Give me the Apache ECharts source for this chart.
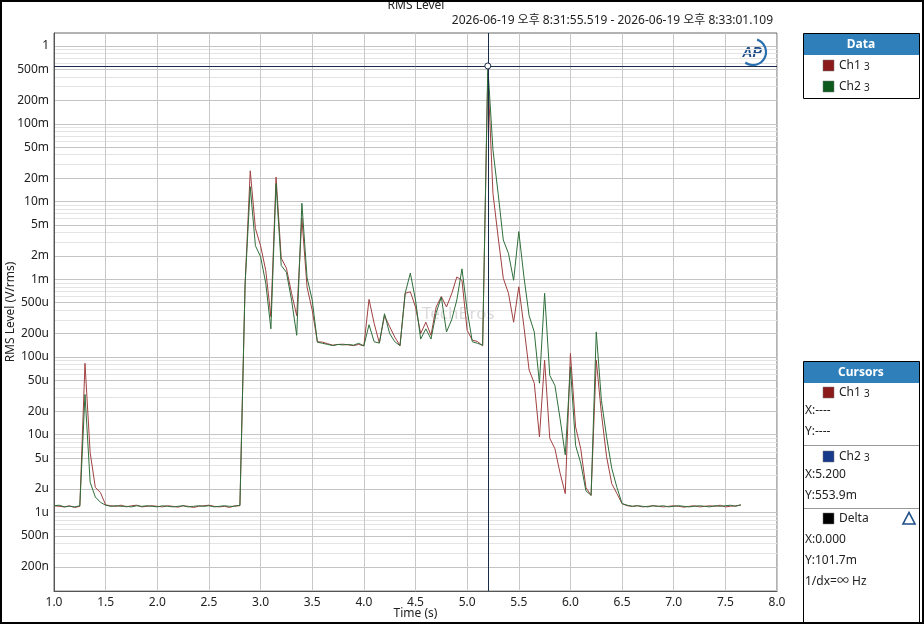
<!DOCTYPE html>
<html>
<head>
<meta charset="utf-8">
<script src="https://cdn.jsdelivr.net/npm/echarts@6/dist/echarts.min.js"></script>
<style>
html,body{margin:0;padding:0;background:#fff;}
#c{width:924px;height:624px;}
</style>
</head>
<body>
<div id="c"></div>
<script>
// ---- data (RMS level in Vrms, sampled every 0.05 s from 1.00 s) ----
const t0 = 1.0, dt = 0.05;
const ch1 = [
1.22e-6,1.20e-6,1.18e-6,1.22e-6,1.16e-6,1.20e-6,
83e-6,5.9e-6,2.1e-6,1.8e-6,1.25e-6,
1.22e-6,1.20e-6,1.24e-6,1.18e-6,1.22e-6,1.24e-6,1.18e-6,1.20e-6,1.22e-6,1.20e-6,
1.18e-6,1.22e-6,1.20e-6,1.17e-6,1.22e-6,1.20e-6,1.16e-6,1.20e-6,1.22e-6,1.24e-6,
1.20e-6,1.18e-6,1.20e-6,1.16e-6,1.22e-6,1.22e-6,
0.85e-3,24.8e-3,4.5e-3,2.7e-3,1.3e-3,0.33e-3,20.6e-3,1.87e-3,1.39e-3,0.66e-3,
0.34e-3,6.1e-3,0.79e-3,0.40e-3,0.157e-3,0.155e-3,0.148e-3,0.142e-3,0.145e-3,0.146e-3,
0.143e-3,0.140e-3,0.145e-3,0.139e-3,0.55e-3,0.27e-3,0.151e-3,0.34e-3,0.245e-3,0.18e-3,
0.14e-3,0.66e-3,0.69e-3,0.44e-3,0.20e-3,0.28e-3,0.19e-3,0.44e-3,0.60e-3,0.44e-3,
0.65e-3,1.07e-3,0.97e-3,0.22e-3,0.165e-3,0.158e-3,0.139e-3,452.2e-3,12.7e-3,3.5e-3,
1.03e-3,0.66e-3,0.28e-3,0.80e-3,0.245e-3,68e-6,46e-6,9.4e-6,91e-6,9.0e-6,
6.6e-6,3.2e-6,1.75e-6,111e-6,12.6e-6,6.6e-6,2.1e-6,1.66e-6,91e-6,18.7e-6,
5.2e-6,2.35e-6,1.75e-6,1.3e-6,
1.22e-6,1.20e-6,1.22e-6,1.18e-6,1.20e-6,1.22e-6,1.20e-6,1.18e-6,1.20e-6,1.22e-6,
1.20e-6,1.17e-6,1.20e-6,1.22e-6,1.18e-6,1.20e-6,1.22e-6,1.20e-6,1.24e-6,1.18e-6,
1.20e-6,1.22e-6,1.24e-6
];
const ch2 = [
1.22e-6,1.24e-6,1.18e-6,1.20e-6,1.18e-6,1.22e-6,
33e-6,2.45e-6,1.58e-6,1.35e-6,1.24e-6,
1.20e-6,1.22e-6,1.20e-6,1.20e-6,1.18e-6,1.22e-6,1.20e-6,1.22e-6,1.20e-6,1.18e-6,
1.22e-6,1.20e-6,1.18e-6,1.20e-6,1.22e-6,1.18e-6,1.20e-6,1.22e-6,1.20e-6,1.22e-6,
1.18e-6,1.20e-6,1.22e-6,1.20e-6,1.20e-6,1.24e-6,
0.85e-3,15.5e-3,2.7e-3,1.95e-3,0.89e-3,0.23e-3,17e-3,1.5e-3,1.23e-3,0.54e-3,
0.19e-3,9.5e-3,1.05e-3,0.54e-3,0.155e-3,0.150e-3,0.145e-3,0.140e-3,0.145e-3,0.143e-3,
0.145e-3,0.142e-3,0.150e-3,0.139e-3,0.26e-3,0.157e-3,0.151e-3,0.36e-3,0.20e-3,0.157e-3,
0.14e-3,0.66e-3,1.2e-3,0.54e-3,0.17e-3,0.23e-3,0.17e-3,0.37e-3,0.59e-3,0.21e-3,
0.30e-3,0.54e-3,1.36e-3,0.40e-3,0.157e-3,0.150e-3,0.142e-3,553.9e-3,46e-3,12.7e-3,
3.2e-3,2.15e-3,0.97e-3,4.1e-3,1.07e-3,0.34e-3,0.21e-3,46e-6,0.66e-3,58e-6,
43e-6,16e-6,5.5e-6,74e-6,7.3e-6,4.3e-6,1.9e-6,1.66e-6,0.21e-3,27.6e-6,
9.4e-6,3.7e-6,2.1e-6,1.3e-6,
1.24e-6,1.20e-6,1.22e-6,1.20e-6,1.18e-6,1.22e-6,1.20e-6,1.22e-6,1.18e-6,1.20e-6,
1.22e-6,1.20e-6,1.18e-6,1.20e-6,1.22e-6,1.20e-6,1.18e-6,1.22e-6,1.20e-6,1.22e-6,
1.24e-6,1.20e-6,1.26e-6
];
const yTickValues = [2e-7,5e-7,1e-6,2e-6,5e-6,1e-5,2e-5,5e-5,1e-4,2e-4,5e-4,1e-3,2e-3,5e-3,1e-2,2e-2,5e-2,0.1,0.2,0.5,1];
const yTickLabels = ['200n','500n','1u','2u','5u','10u','20u','50u','100u','200u','500u','1m','2m','5m','10m','20m','50m','100m','200m','500m','1'];
const yMinorMantissa = [3,4,6,7,8,9];
const yMinorDecades = [-7,-6,-5,-4,-3,-2,-1];
const yMin = 9.77e-8, yMax = 1.47;
const xTicks = {min:1.0, max:8.0, interval:0.5};
const cursor = {x:5.2, y:0.5539};
const title = 'RMS Level';
const subtitle = '2026-06-19 오후 8:31:55.519 - 2026-06-19 오후 8:33:01.109';
const cursorTexts = {ch1X:'X:----', ch1Y:'Y:----', ch2X:'X:5.200', ch2Y:'Y:553.9m', dX:'X:0.000', dY:'Y:101.7m', dHz:'1/dx=∞ Hz'};

// ---- build ----
const L = v => Math.log10(v);
const times = ch1.map((_, i) => +(t0 + i * dt).toFixed(2));
const d1 = times.map((t, i) => [t, L(ch1[i])]);
const d2 = times.map((t, i) => [t, L(ch2[i])]);
const majorVals = yTickValues.map(L);
majorVals.push(L(1e-7));
const labelMap = {};
yTickValues.forEach((v, i) => { labelMap[L(v).toFixed(4)] = yTickLabels[i]; });
const minorVals = [];
yMinorDecades.forEach(e => yMinorMantissa.forEach(m => { const v = m * Math.pow(10, e); if (v > yMin && v < yMax) minorVals.push(L(v)); }));

const FONT = '"Noto Sans", "Noto Sans CJK KR", sans-serif';
const blue = '#2f80ba';
const txt = (x, y, s, o) => ({type:'text', x, y, style:Object.assign({text:s, fill:'#222', font:'12px ' + FONT, textVerticalAlign:'middle'}, o || {})});
const swatch = (x, y, c) => ({type:'rect', shape:{x, y, width:11, height:11}, style:{fill:c, stroke:'#777', lineWidth:0.5}});
const chLabel = (x, y, name) => [txt(x, y, name, {}), txt(x + 25, y + 2, '3', {font:'10px ' + FONT})];

const graphics = [
  {type:'rect', shape:{x:1, y:1, width:922, height:622}, style:{fill:'none', stroke:'#000', lineWidth:2}, z:100},
  txt(416, 6, title, {textAlign:'center', font:'12px ' + FONT, fill:'#222'}),
  txt(773, 21, subtitle, {textAlign:'right', font:'12px ' + FONT, fill:'#222'}),
  // AP logo
  {type:'arc', shape:{cx:753, cy:52, r:13, startAngle:-1.25, endAngle:2.2}, style:{stroke:'#2a6fb0', lineWidth:2.2, fill:'none'}, z:10},
  txt(752, 53, 'AP', {textAlign:'center', font:'italic bold 14px "Liberation Sans", sans-serif', fill:'#1d4e89'}),
  // watermark
  txt(422, 314, 'TechBros', {font:'17px ' + FONT, fill:'rgba(150,150,150,0.35)'}),
  // Data panel
  {type:'rect', shape:{x:803.5, y:33.5, width:116, height:65}, style:{fill:'#fff', stroke:'#000', lineWidth:1}},
  {type:'rect', shape:{x:804, y:34, width:115, height:21}, style:{fill:blue}},
  txt(861, 44.5, 'Data', {textAlign:'center', fill:'#fff', font:'bold 12px ' + FONT}),
  swatch(823, 60, '#8b1a1a'), ...chLabel(839, 65.5, 'Ch1'),
  swatch(823, 81, '#0e5a1c'), ...chLabel(839, 86.5, 'Ch2'),
  // Cursors panel
  {type:'rect', shape:{x:803.5, y:361.5, width:116, height:262}, style:{fill:'#fff', stroke:'#000', lineWidth:1}},
  {type:'rect', shape:{x:804, y:362, width:115, height:21}, style:{fill:blue}},
  txt(861, 372.5, 'Cursors', {textAlign:'center', fill:'#fff', font:'bold 12px ' + FONT}),
  swatch(823, 387, '#8b1a1a'), ...chLabel(839, 392.5, 'Ch1'),
  txt(805, 411, cursorTexts.ch1X), txt(805, 432, cursorTexts.ch1Y),
  {type:'line', shape:{x1:804, y1:445.5, x2:919, y2:445.5}, style:{stroke:'#999', lineWidth:1}},
  swatch(823, 451, '#183a8a'), ...chLabel(839, 456.5, 'Ch2'),
  txt(805, 475, cursorTexts.ch2X), txt(805, 496, cursorTexts.ch2Y),
  {type:'line', shape:{x1:804, y1:508.5, x2:919, y2:508.5}, style:{stroke:'#999', lineWidth:1}},
  swatch(823, 513, '#000'), txt(839, 518.5, 'Delta'),
  {type:'polygon', shape:{points:[[903,524],[915,524],[909,512.5]]}, style:{fill:'none', stroke:'#1d4e89', lineWidth:1.6}},
  txt(805, 540, cursorTexts.dX), txt(805, 561, cursorTexts.dY), txt(805, 582, cursorTexts.dHz)
];

const chart = echarts.init(document.getElementById('c'), null, {renderer:'canvas'});
chart.setOption({
  animation:false,
  backgroundColor:'#fff',
  textStyle:{fontFamily:FONT},
  grid:{left:54, right:147, top:33, bottom:33, show:true, borderColor:'#666', borderWidth:1, containLabel:false, outerBoundsMode:'none'},
  xAxis:{
    type:'value', min:xTicks.min, max:xTicks.max, interval:xTicks.interval,
    name:'Time (s)', nameLocation:'middle', nameGap:17, nameMoveOverlap:false,
    nameTextStyle:{color:'#222', fontSize:12, fontFamily:FONT},
    axisLine:{show:true, onZero:false, lineStyle:{color:'#555'}},
    axisTick:{show:false},
    axisLabel:{color:'#222', fontSize:12, margin:6, formatter:v => v.toFixed(1)},
    splitLine:{show:true, lineStyle:{color:'#c8c8c8', width:1}}
  },
  yAxis:[{
    type:'value', min:L(yMin), max:L(yMax),
    name:'RMS Level (V/rms)', nameLocation:'middle', nameGap:37, nameMoveOverlap:false,
    nameTextStyle:{color:'#222', fontSize:12, fontFamily:FONT},
    axisLine:{show:true, lineStyle:{color:'#555'}},
    axisTick:{show:false, customValues:majorVals},
    axisLabel:{color:'#222', fontSize:12, margin:5, customValues:yTickValues.map(L),
      formatter:v => labelMap[(+v).toFixed(4)] || ''},
    splitLine:{show:true, lineStyle:{color:'#c4c4c4', width:1}}
  },{
    type:'value', min:L(yMin), max:L(yMax), position:'left',
    axisLine:{show:false}, axisLabel:{show:false},
    axisTick:{show:false, customValues:minorVals},
    splitLine:{show:true, lineStyle:{color:'#e4e4e4', width:1}}
  }],
  graphic:graphics,
  series:[
    {name:'Ch1', type:'line', data:d1, showSymbol:false, lineStyle:{color:'#a04040', width:1}, itemStyle:{color:'#a04040'}, z:3},
    {name:'Ch2', type:'line', data:d2, showSymbol:false, lineStyle:{color:'#2f6e3a', width:1}, itemStyle:{color:'#2f6e3a'}, z:4,
      markLine:{silent:true, symbol:['none','none'], label:{show:false},
        lineStyle:{color:'#1b2b4b', width:1, type:'solid'},
        data:[{xAxis:cursor.x},{yAxis:L(cursor.y)}]},
      markPoint:{silent:true, symbol:'circle', symbolSize:6, label:{show:false},
        itemStyle:{color:'#fff', borderColor:'#1b2b4b', borderWidth:1},
        data:[{coord:[cursor.x, L(cursor.y)]}]}
    }
  ]
});
</script>
</body>
</html>
